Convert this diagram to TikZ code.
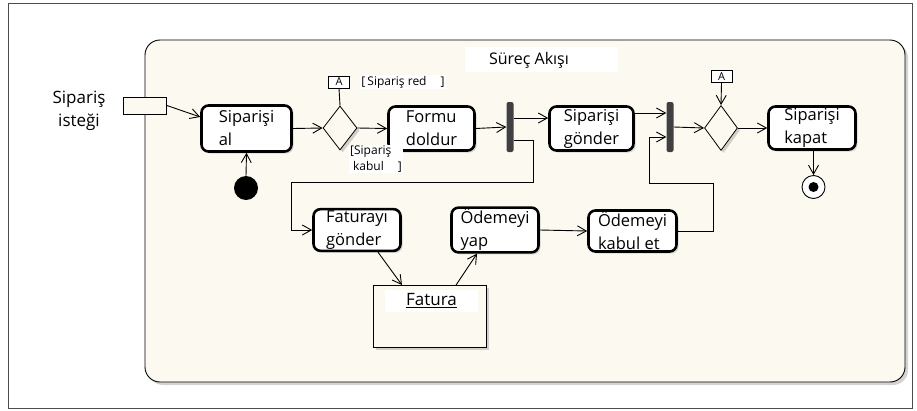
\documentclass[tikz,border=0pt]{standalone}
\usepackage{fontspec}
\setmainfont{Open Sans}
\usetikzlibrary{positioning,shapes.geometric,arrows.meta,shadows}
\definecolor{cream}{RGB}{252,250,240}
\definecolor{bargray}{RGB}{64,64,64}

\begin{document}
\begin{tikzpicture}
        [x=1pt,y=-1pt,every node/.style={inner sep=1pt},
         act/.style={draw,line width=2.6pt,rounded corners=7pt,fill=white,align=left,inner ysep=1.5pt,
           font=\fontsize{16.5}{23}\selectfont,
           drop shadow={shadow xshift=2pt,shadow yshift=-2pt,opacity=.3}},
         choice/.style={diamond,draw,line width=0.8pt,fill=cream,inner sep=0pt,
           drop shadow={shadow xshift=2.5pt,shadow yshift=-2.5pt,opacity=.35}},
         bar/.style={fill=bargray,rounded corners=2pt,minimum width=7pt,minimum height=50pt,inner sep=0pt},
         conn/.style={draw,fill=white,line width=0.8pt,font=\fontsize{11}{11}\selectfont,
           minimum width=21pt,minimum height=12pt,inner sep=0pt},
         guard/.style={fill=white,font=\fontsize{12}{16}\selectfont,inner sep=1pt},
         lbl/.style={font=\fontsize{17}{23}\selectfont},
         startnode/.style={circle,fill=black,minimum size=24pt,inner sep=0pt},
         endnode/.style={circle,draw,line width=0.9pt,fill=white,minimum size=23pt,inner sep=0pt},
         enddot/.style={circle,fill=black,minimum size=10pt,inner sep=0pt},
         objbox/.style={draw,fill=cream,line width=0.9pt,minimum width=113pt,minimum height=62pt,
           drop shadow={shadow xshift=2.5pt,shadow yshift=-2.5pt,opacity=.35}},
         pinbox/.style={draw,fill=cream,line width=0.8pt,minimum width=43pt,minimum height=17pt,inner sep=0pt},
         flowarrow/.style={line width=0.9pt,-{Straight Barb[length=9pt,width=10pt,line width=0.9pt]}}]
        \useasboundingbox (0,0) rectangle (917,410);
        \draw[line width=0.9pt,black!70] (8,3) rectangle (912,408);
        \draw[line width=0.9pt,rounded corners=15pt,fill=cream,
          drop shadow={shadow xshift=3pt,shadow yshift=-3pt,opacity=.35}] (145,40) rectangle (905,382);

        % titel
        \node[guard,minimum width=153pt,minimum height=25pt] (titlebg) at (541.5,59.5) {};
        \node[lbl,font=\fontsize{16}{20}\selectfont] (title) at (529,60) {Süreç Akışı};

        % giris
        \node[lbl,align=center] (isteklbl) at (79,111) {Sipariş\\isteği};
        \node[pinbox] (pin) at (145,105.5) {};
        \node[startnode] (init) at (246,188) {};

        % ust sira
        \node[act,minimum width=90pt,minimum height=46pt] (al) at (246.5,128.5) {Siparişi\\al};
        \node[choice,minimum width=34pt,minimum height=44pt] (d1) at (340,128) {};
        \node[conn] (aone) at (339,82) {A};
        \node[guard] (red) at (403,82) {[\,Sipariş red\hspace{14pt}]};
        \node[act,minimum width=86pt,minimum height=44pt] (form) at (431.5,128.5) {Formu\\doldur};
        \node[bar] (bar1) at (510,127) {};
        \node[act,minimum width=84pt,minimum height=44pt] (gonder) at (591.5,128.5) {Siparişi\\gönder};
        \node[bar] (bar2) at (670,127) {};
        \node[choice,minimum width=33pt,minimum height=45pt] (d2) at (721,128) {};
        \node[conn] (atwo) at (721.5,76.5) {A};
        \node[act,minimum width=87pt,minimum height=43pt] (kapat) at (812,128) {Siparişi\\kapat};
        \node[endnode] (final) at (813.5,187) {};
        \node[enddot] (finaldot) at (final.center) {};
        \node[guard,align=left] (kabul) at (376,159) {[Sipariş\\\hspace*{3pt}kabul\hspace{14pt}]};

        % alt sira
        \node[act,minimum width=87pt,minimum height=41pt] (fg) at (357,230) {Faturayı\\gönder};
        \node[act,minimum width=87pt,minimum height=41pt] (yap) at (495,230) {Ödemeyi\\yap};
        \node[act,minimum width=88pt,minimum height=41pt] (ke) at (632.5,231) {Ödemeyi\\kabul et};
        \node[objbox] (fatura) at (430,316.5) {};
        \node[guard,font=\fontsize{17}{20}\selectfont,minimum width=93pt,minimum height=22pt] (faturalbl) at (431.5,301) {\underline{Fatura}};

        \coordinate (c1) at (291,182);
        \coordinate (c2) at (649,183);

        \draw[flowarrow] (pin.east) -- (al.166);
        \draw[flowarrow] (init.north) -- (al.south);
        \draw[flowarrow] (al.east) -- (d1.west);
        \draw[line width=0.9pt] (aone.south) -- (d1.north);
        \draw[flowarrow] (d1.east) -- (form.west);
        \draw[flowarrow] (form.east) -- (bar1.west);
        \draw[flowarrow] ([yshift=9pt]bar1.east) -- ([yshift=9pt]bar1.east -| gonder.west);
        \draw[flowarrow] ([yshift=-13pt]bar1.east) -- ++(20,0) |- (c1) |- (fg.west);
        \draw[flowarrow] ([yshift=15.5pt]gonder.east) -- ([yshift=15.5pt]gonder.east -| bar2.west);
        \draw[flowarrow] (ke.east) -- ++(36,0) |- (c2) |- ([yshift=-10pt]bar2.west);
        \draw[flowarrow] (bar2.east) -- (d2.west);
        \draw[flowarrow] (atwo.south) -- (d2.north);
        \draw[flowarrow] (d2.east) -- (kapat.west);
        \draw[flowarrow] (final.north |- kapat.south) -- (final.north);
        \draw[flowarrow] ([xshift=21pt]fg.south) -- ([xshift=-28pt]fatura.north);
        \draw[flowarrow] ([xshift=26pt]fatura.north) -- ([xshift=-18pt]yap.south);
        \draw[flowarrow] (yap.east) -- (ke.west);

      \end{tikzpicture}
\end{document}
